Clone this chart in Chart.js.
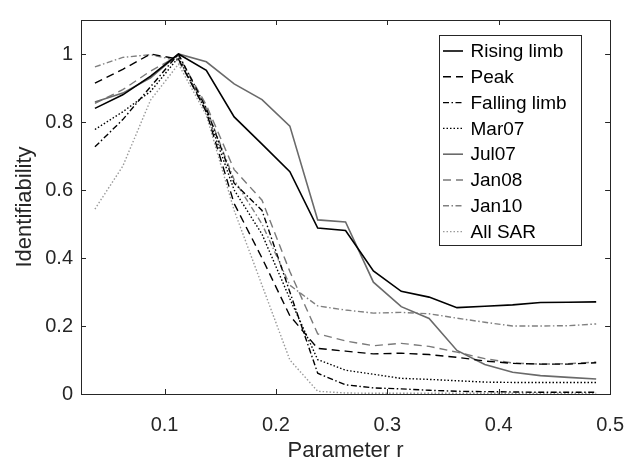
<!DOCTYPE html>
<html>
<head>
<meta charset="utf-8">
<script src="https://cdn.jsdelivr.net/npm/chart.js@4.4.1/dist/chart.umd.min.js"></script>
<style>
  html, body { margin: 0; padding: 0; background: #fff; }
  #wrap { width: 643px; height: 460px; }
</style>
</head>
<body>
<div id="wrap"><canvas id="chart" width="643" height="460"></canvas></div>
<script>
// valores de r (eixo x)
const rValues = [0.0375, 0.0625, 0.0875, 0.1125, 0.1375, 0.1625, 0.1875, 0.2125, 0.2375, 0.2625,
  0.2875, 0.3125, 0.3375, 0.3625, 0.3875, 0.4125, 0.4375, 0.4625, 0.4875];

const risingLimb = [0.84, 0.88, 0.935, 1.0, 0.952, 0.815, 0.735, 0.654, 0.488, 0.481,
  0.362, 0.302, 0.285, 0.254, 0.258, 0.262, 0.269, 0.27, 0.271];
const peak = [0.914, 0.955, 1.0, 0.985, 0.83, 0.56, 0.40, 0.23, 0.134, 0.126,
  0.118, 0.12, 0.116, 0.108, 0.097, 0.09, 0.088, 0.088, 0.092];
const fallingLimb = [0.727, 0.807, 0.904, 1.0, 0.84, 0.62, 0.54, 0.30, 0.061, 0.027,
  0.018, 0.015, 0.011, 0.008, 0.007, 0.006, 0.005, 0.005, 0.005];
const mar07 = [0.778, 0.83, 0.89, 0.99, 0.83, 0.60, 0.47, 0.28, 0.101, 0.07,
  0.058, 0.046, 0.043, 0.039, 0.035, 0.034, 0.034, 0.034, 0.034];
const jul07 = [0.859, 0.885, 0.93, 1.0, 0.977, 0.912, 0.866, 0.788, 0.512, 0.506,
  0.329, 0.257, 0.222, 0.128, 0.087, 0.064, 0.054, 0.049, 0.044];
const jan08 = [0.855, 0.895, 0.95, 0.995, 0.85, 0.66, 0.57, 0.36, 0.177, 0.156,
  0.142, 0.149, 0.14, 0.123, 0.104, 0.091, 0.088, 0.089, 0.094];
const jan10 = [0.962, 0.99, 0.998, 0.98, 0.84, 0.63, 0.50, 0.32, 0.259, 0.247,
  0.238, 0.24, 0.236, 0.223, 0.211, 0.2, 0.2, 0.201, 0.206];
const allSar = [0.544, 0.67, 0.865, 0.97, 0.82, 0.54, 0.32, 0.10, 0.008, 0.003,
  0.002, 0.002, 0.002, 0.002, 0.002, 0.002, 0.002, 0.002, 0.002];

const xTicks = [0.1, 0.2, 0.3, 0.4, 0.5];
const yTicks = [0, 0.2, 0.4, 0.6, 0.8, 1];

const axisColor = '#262626';
const fontFamily = '"Liberation Sans", Arial, sans-serif';

function serie(label, values, color, dash, width) {
  return {
    label: label,
    data: values.map((v, i) => ({ x: rValues[i], y: v })),
    borderColor: color,
    borderWidth: width || 1.4,
    borderDash: dash,
    pointRadius: 0,
    fill: false,
    tension: 0
  };
}

const datasets = [
  serie('Rising limb', risingLimb, '#000000', [], 1.6),
  serie('Peak', peak, '#000000', [8, 5]),
  serie('Falling limb', fallingLimb, '#000000', [6, 2.5, 1.5, 2.5]),
  serie('Mar07', mar07, '#000000', [1.5, 2]),
  serie('Jul07', jul07, '#6a6a6a', [], 1.6),
  serie('Jan08', jan08, '#7a7a7a', [8, 5]),
  serie('Jan10', jan10, '#808080', [6, 2.5, 1.5, 2.5]),
  serie('All SAR', allSar, '#9a9a9a', [1.5, 2])
];

// ticks para dentro, caixa e legenda no estilo MATLAB
const matlabBox = {
  id: 'matlabBox',
  afterDatasetsDraw(chart) {
    const { ctx, chartArea: a, scales: { x, y } } = chart;
    ctx.save();
    ctx.strokeStyle = axisColor;
    ctx.lineWidth = 1;
    ctx.beginPath();
    xTicks.forEach(t => {
      const px = Math.round(x.getPixelForValue(t)) + 0.5;
      ctx.moveTo(px, a.bottom); ctx.lineTo(px, a.bottom - 5);
      ctx.moveTo(px, a.top); ctx.lineTo(px, a.top + 5);
    });
    yTicks.forEach(t => {
      const py = Math.round(y.getPixelForValue(t)) + 0.5;
      ctx.moveTo(a.left, py); ctx.lineTo(a.left + 5, py);
      ctx.moveTo(a.right, py); ctx.lineTo(a.right - 5, py);
    });
    ctx.stroke();
    ctx.strokeRect(Math.round(a.left) + 0.5, Math.round(a.top) + 0.5,
      Math.round(a.right - a.left), Math.round(a.bottom - a.top));

    // legenda
    const lx = 439.5, ly = 35.5, lw = 142, lh = 210;
    ctx.fillStyle = '#fff';
    ctx.fillRect(lx, ly, lw, lh);
    ctx.strokeRect(lx, ly, lw, lh);
    ctx.font = '19px ' + fontFamily;
    ctx.textBaseline = 'middle';
    ctx.textAlign = 'left';
    chart.data.datasets.forEach((ds, i) => {
      const yy = 51 + i * 25.8;
      ctx.save();
      ctx.strokeStyle = ds.borderColor;
      ctx.lineWidth = ds.borderWidth;
      ctx.setLineDash(ds.borderDash);
      ctx.beginPath();
      ctx.moveTo(443, yy); ctx.lineTo(463, yy);
      ctx.stroke();
      ctx.restore();
      ctx.fillStyle = '#000';
      ctx.fillText(ds.label, 470.5, yy + 1);
    });
    ctx.restore();
  }
};

new Chart(document.getElementById('chart').getContext('2d'), {
  type: 'line',
  data: { datasets: datasets },
  options: {
    responsive: false,
    animation: false,
    layout: { padding: { top: 10, right: 29, left: 0, bottom: 0 } },
    plugins: { legend: { display: false }, tooltip: { enabled: false } },
    scales: {
      x: {
        type: 'linear',
        min: 0.025,
        max: 0.5,
        afterBuildTicks: s => { s.ticks = xTicks.map(v => ({ value: v })); },
        afterFit: s => { s.height = 66; },
        grid: { display: false, drawTicks: false },
        border: { display: false },
        ticks: {
          padding: 19,
          color: axisColor,
          font: { family: fontFamily, size: 20 },
          callback: v => String(v)
        },
        title: {
          display: true,
          text: 'Parameter r',
          color: axisColor,
          font: { family: fontFamily, size: 22 },
          padding: { top: 0, bottom: -4 }
        }
      },
      y: {
        min: 0,
        max: 1.1,
        afterBuildTicks: s => { s.ticks = yTicks.map(v => ({ value: v })); },
        afterFit: s => { s.width = 81; },
        grid: { display: false, drawTicks: false },
        border: { display: false },
        ticks: {
          padding: 8,
          color: axisColor,
          font: { family: fontFamily, size: 20 },
          callback: v => String(v)
        },
        title: {
          display: true,
          text: 'Identifiability',
          color: axisColor,
          font: { family: fontFamily, size: 22 },
          padding: { top: 12, bottom: 0 }
        }
      }
    }
  },
  plugins: [matlabBox]
});
</script>
</body>
</html>
